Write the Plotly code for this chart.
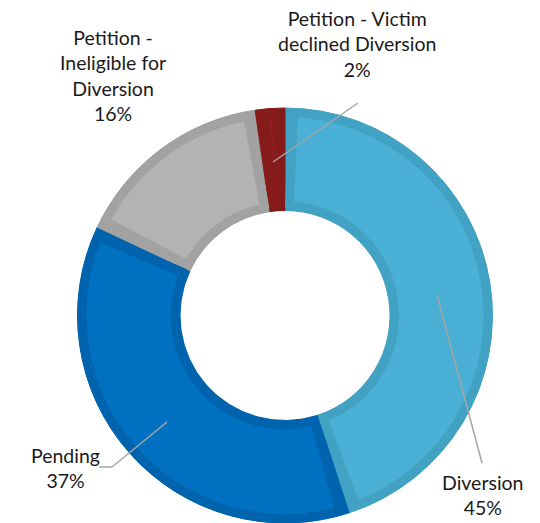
import math
import plotly.graph_objects as go

# ---- data ----
categories = ["Diversion", "Pending", "Petition - Ineligible for Diversion",
              "Petition - Victim declined Diversion"]
values = [45.0, 37.0, 15.7, 2.3]
pct_labels = ["45%", "37%", "16%", "2%"]
label_text = ["Diversion", "Pending", "Petition -<br>Ineligible for<br>Diversion",
              "Petition - Victim<br>declined Diversion"]

fill_colors = ["#4BB0D6", "#0070C0", "#B3B3B3", "#8E1E21"]
edge_colors = ["#41A2C4", "#0063AE", "#A2A2A2", "#851B1B"]

# page has an 8px body margin; figure sized to fit the 540x523 window
OFF = 8
W, H = 540 - OFF, 523 - OFF

def px(x):
    return (x - OFF) / W

def py(y):
    return (H - (y - OFF)) / H

# ring geometry (screen pixels)
cx, cy = 285, 315.5
R_OUT, R_IN = 207.5, 105
BORDER = 9.0
fcx, fcy = cx - OFF, cy - OFF

def domain(r):
    return dict(x=[(fcx - r) / W, (fcx + r) / W],
                y=[(H - fcy - r) / H, (H - fcy + r) / H])

fig = go.Figure()

# layer 1: full ring in the darker edge colours
fig.add_trace(go.Pie(
    labels=categories, values=values, sort=False, direction="clockwise",
    rotation=0, hole=R_IN / R_OUT, textinfo="none", hoverinfo="skip",
    marker=dict(colors=edge_colors, line=dict(color=edge_colors, width=1)),
    domain=domain(R_OUT), showlegend=False,
))

# layer 2: inset lighter fills (separated by transparent gaps) with a stroke
s = BORDER / 2
r2_out = R_OUT - s
r2_in = R_IN + s
gap_deg = 2 * math.degrees(s / r2_in)
total = sum(values)
gap_val = gap_deg / 360 * total

l2_vals, l2_cols, l2_line_cols, l2_w, l2_labels = [], [], [], [], []
for i, (c, v) in enumerate(zip(categories, values)):
    l2_vals += [gap_val / 2, max(v - gap_val, 0.01), gap_val / 2]
    l2_cols += ["rgba(0,0,0,0)", fill_colors[i], "rgba(0,0,0,0)"]
    l2_line_cols += ["rgba(0,0,0,0)", edge_colors[i], "rgba(0,0,0,0)"]
    l2_w += [0, BORDER, 0]
    l2_labels += [f"g{i}a", c + " ", f"g{i}b"]

fig.add_trace(go.Pie(
    labels=l2_labels, values=l2_vals, sort=False, direction="clockwise",
    rotation=0, hole=r2_in / r2_out, textinfo="none", hoverinfo="skip",
    marker=dict(colors=l2_cols, line=dict(color=l2_line_cols, width=l2_w)),
    domain=domain(r2_out), showlegend=False,
))

font = dict(family="Lato, Carlito, Calibri, sans-serif", size=19.5, color="#1A1A1A")

# label annotations (center positions, screen px)
label_pos = [(483, 495), (65, 468), (113, 75), (357, 44)]
for txt, pct, (x, y) in zip(label_text, pct_labels, label_pos):
    fig.add_annotation(x=px(x), y=py(y), xref="paper", yref="paper",
                       text=f"{txt}<br>{pct}", showarrow=False, font=font,
                       xanchor="center", yanchor="middle", align="center")

# leader lines
lead = dict(color="#A6A6A6", width=1.5)
leaders = [
    [(437, 295), (482, 463)],
    [(167, 422), (112, 467), (99, 467)],
    [(273, 162), (358, 103)],
]
for pts in leaders:
    for (x0, y0), (x1, y1) in zip(pts[:-1], pts[1:]):
        fig.add_shape(type="line", xref="paper", yref="paper",
                      x0=px(x0), y0=py(y0), x1=px(x1), y1=py(y1), line=lead)

fig.update_layout(width=W, height=H, margin=dict(l=0, r=0, t=0, b=0),
                  paper_bgcolor="white", plot_bgcolor="white")
fig.write_html("out.html")
